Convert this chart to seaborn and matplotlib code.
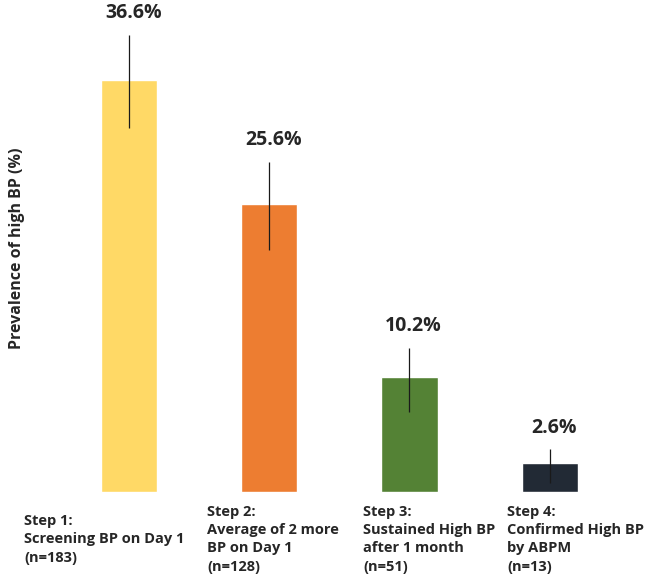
import pandas as pd
import seaborn as sns
import matplotlib.pyplot as plt
import matplotlib.transforms as mtransforms

# datos del grafico
steps = [
    "Step 1:\nScreening BP on Day 1\n(n=183)",
    "Step 2:\nAverage of 2 more\nBP on Day 1\n(n=128)",
    "Step 3:\nSustained High BP\nafter 1 month\n(n=51)",
    "Step 4:\nConfirmed High BP\nby ABPM\n(n=13)",
]
prevalence = [36.6, 25.6, 10.2, 2.6]
ci_low = [32.3, 21.5, 7.1, 0.8]
ci_high = [40.6, 29.3, 12.8, 3.8]
bar_colors = ["#FFD966", "#ED7D31", "#548235", "#222A35"]

df = pd.DataFrame({"step": steps, "prevalence": prevalence})

sns.set_style("white")
plt.rcParams["font.family"] = ["Open Sans", "DejaVu Sans"]

fig = plt.figure(figsize=(6.45, 5.81), dpi=100)
ax = fig.add_axes([45 / 645, 89 / 581, 600 / 645, 492 / 581])

sns.barplot(data=df, x="step", y="prevalence", hue="step", palette=bar_colors,
            width=0.4, legend=False, ax=ax, saturation=1)

# barras de error (intervalos)
xs = list(range(len(steps)))
ax.vlines(xs, ci_low, ci_high, color="#1a1a1a", linewidth=0.9)

# etiquetas de porcentaje
for x, hi, val in zip(xs, ci_high, prevalence):
    ax.annotate(f"{val}%", (x, hi), xytext=(3, 12), textcoords="offset points",
                ha="center", va="baseline", fontsize=14, fontweight="bold")

ax.set_xlim(-0.6, 3.68)
ax.set_ylim(0, 43.7)
ax.set_yticks([])
ax.set_xlabel("")
ax.set_ylabel("")
for s in ax.spines.values():
    s.set_visible(False)

# etiquetas del eje x desplazadas (en pixeles) como en la figura original
label_dx = [-25, 4, 20, 26]
ax.tick_params(axis="x", length=0, pad=34)
for lbl, dx in zip(ax.get_xticklabels(), label_dx):
    lbl.set_fontweight("bold")
    lbl.set_fontsize(10.5)
    lbl.set_va("center")
    lbl.set_multialignment("left")
    lbl.set_linespacing(1.4)
    lbl.set_transform(lbl.get_transform() +
                      mtransforms.ScaledTranslation(dx / 100, 0, fig.dpi_scale_trans))

fig.text(17 / 645, 1 - 248 / 581, "Prevalence of high BP (%)", rotation=90,
         ha="center", va="center", fontsize=11.5, fontweight="bold")

fig.savefig("out.png", dpi=100)
